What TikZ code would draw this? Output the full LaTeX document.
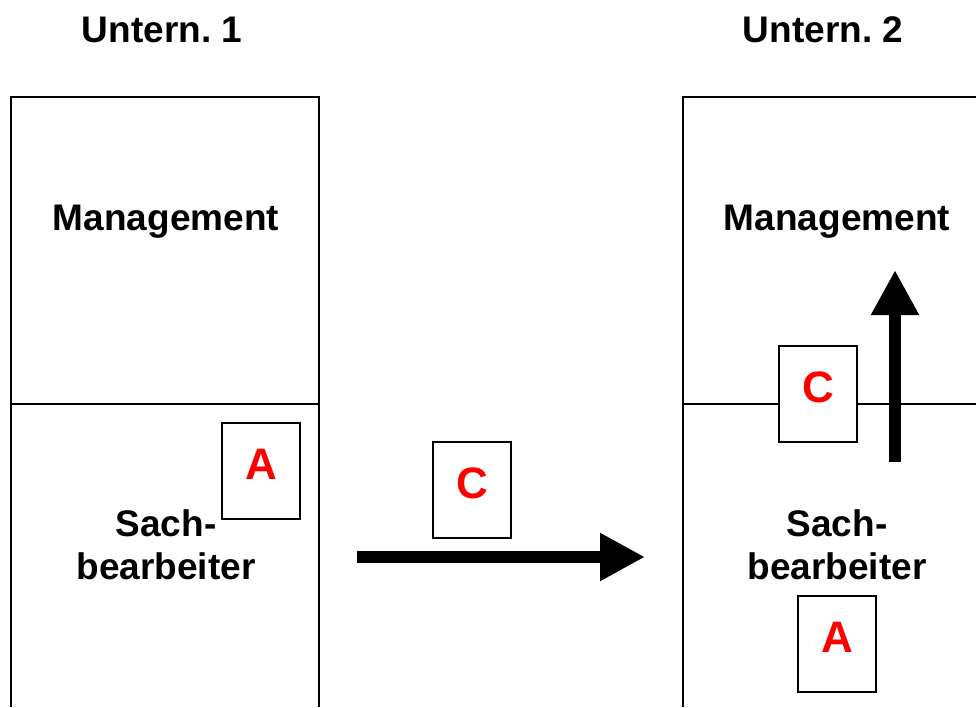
\documentclass[tikz,border=0pt]{standalone}
\usepackage{fontspec}
\setmainfont{Liberation Sans}
\usetikzlibrary{arrows.meta, positioning}
\frenchspacing

\begin{document}
\begin{tikzpicture}[
  x=1pt, y=-1pt,
  line width=1.4pt,
  hd/.style={font=\bfseries\fontsize{37}{43}\selectfont, anchor=base},
  lbl/.style={font=\bfseries\fontsize{37}{43}\selectfont, align=center},
  doc/.style={draw, fill=white, line width=1.4pt, minimum width=78pt,
              minimum height=96pt, inner sep=0pt, text=red,
              font=\bfseries\fontsize{44}{44}\selectfont,
              text height=32pt, text depth=16pt},
  ar/.style={-{Triangle[length=45pt, width=45pt]}, line width=12pt}
]
\useasboundingbox (0,0) rectangle (976,707);
% Unternehmen 1
\node[hd] (u1) at (162,42) {Untern. 1};
\draw (11,707) -- (11,97) -- (319,97) -- (319,707);
\draw (11,404) -- (319,404);
\node[hd] (m1) at (166,230) {Management};
\node[lbl] (s1) at (166,545) {Sach-\\bearbeiter};
\node[doc] (a1) at (261,471) {A};
% Weitergabe
\node[doc] (c0) at (472,490) {C};
\coordinate (h0) at (357,557);
\coordinate (h1) at (645,557);
\draw[ar] (h0) -- (h1);
% Unternehmen 2
\node[hd] (u2) at (823,42) {Untern. 2};
\draw (976,97) -- (683,97) -- (683,707);
\draw (683,404) -- (976,404);
\node[hd] (m2) at (837,230) {Management};
\node[lbl] (s2) at (837,545) {Sach-\\bearbeiter};
\node[doc] (c2) at (818,394) {C};
\node[doc] (a2) at (837,644) {A};
\coordinate (v0) at (895,462);
\coordinate (v1) at (895,270);
\draw[ar] (v0) -- (v1);
\end{tikzpicture}
\end{document}
